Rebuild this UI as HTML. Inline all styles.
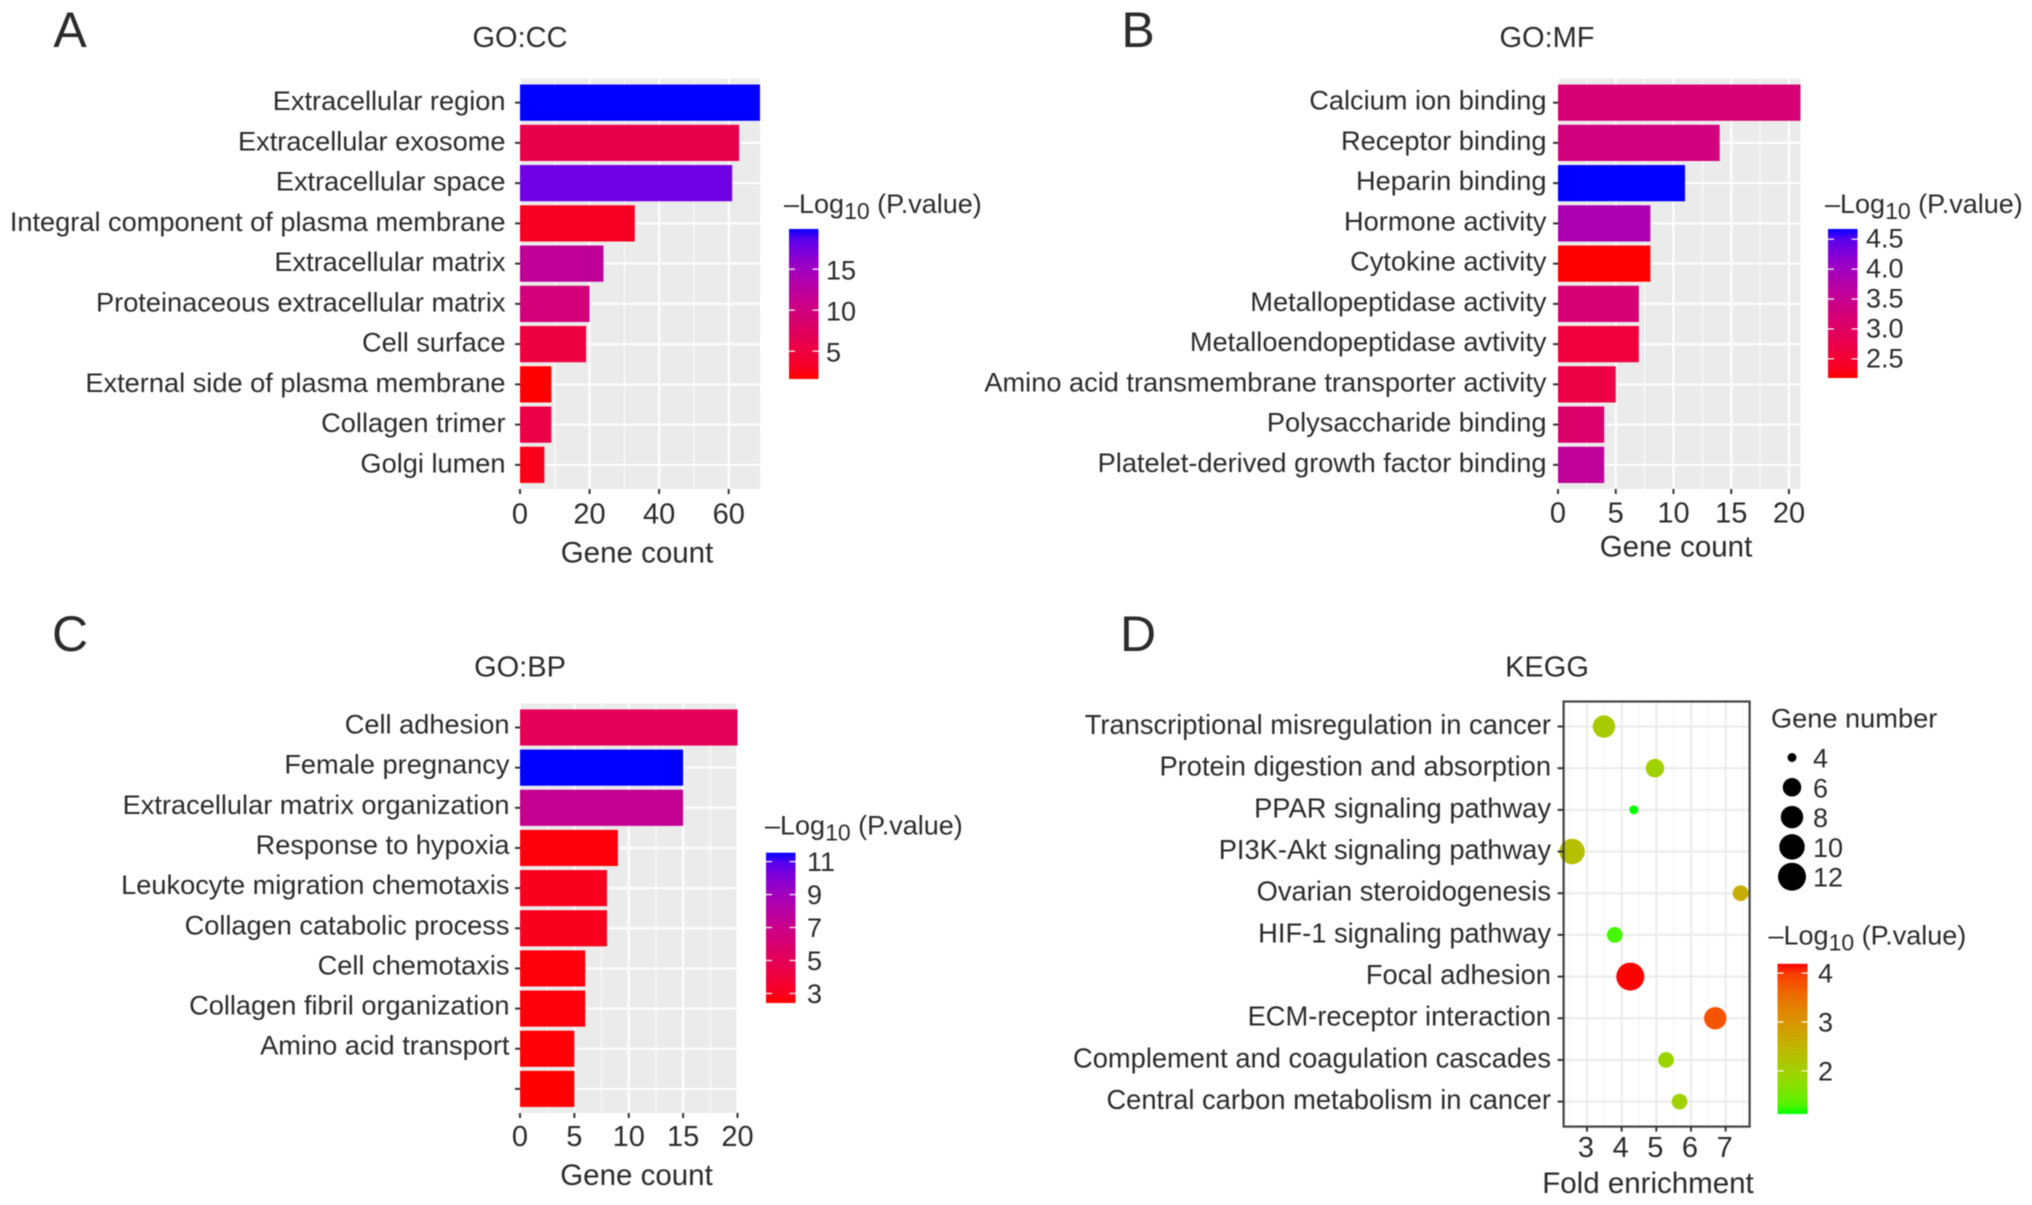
<!DOCTYPE html>
<html lang="en">
<head>
<meta charset="utf-8">
<title>GO and KEGG enrichment charts</title>
<style>
html,body{margin:0;padding:0;background:#fff;}
svg{display:block;filter:blur(0.5px);}
text{font-family:"Liberation Sans",Arial,sans-serif;fill:#2b2b2b;}
</style>
</head>
<body>
<svg id="figure" xmlns="http://www.w3.org/2000/svg" width="2032" height="1205" viewBox="0 0 2032 1205"></svg>
<script>
/* ---------- Panel A data ---------- */
const categoriesA = ["Extracellular region","Extracellular exosome","Extracellular space","Integral component of plasma membrane","Extracellular matrix","Proteinaceous extracellular matrix","Cell surface","External side of plasma membrane","Collagen trimer","Golgi lumen"];
const countsA = [69,63,61,33,24,20,19,9,9,7];
const logPA = [19.9,6,17.8,3,12,9.5,5,1.6,5.5,2.5];
const xTicksA = [0,20,40,60];
const legendTicksA = [5,10,15];

/* ---------- Panel B data ---------- */
const categoriesB = ["Calcium ion binding","Receptor binding","Heparin binding","Hormone activity","Cytokine activity","Metallopeptidase activity","Metalloendopeptidase avtivity","Amino acid transmembrane transporter activity","Polysaccharide binding","Platelet-derived growth factor binding"];
const countsB = [21,14,11,8,8,7,7,5,4,4];
const logPB = [3.2,3.3,4.67,3.85,2.18,3.2,2.6,2.7,3.1,3.6];
const xTicksB = [0,5,10,15,20];
const legendTicksB = ["2.5","3.0","3.5","4.0","4.5"];

/* ---------- Panel C data ---------- */
const categoriesC = ["Cell adhesion","Female pregnancy","Extracellular matrix organization","Response to hypoxia","Leukocyte migration chemotaxis","Collagen catabolic process","Cell chemotaxis","Collagen fibril organization","Amino acid transport",""];
const countsC = [20,15,15,9,8,8,6,6,5,5];
const logPC = [5,11.54,7.3,2.6,3,3,2.6,2.6,2.5,2.42];
const xTicksC = [0,5,10,15,20];
const legendTicksC = [3,5,7,9,11];

/* ---------- Panel D data ---------- */
const categoriesD = ["Transcriptional misregulation in cancer","Protein digestion and absorption","PPAR signaling pathway","PI3K-Akt signaling pathway","Ovarian steroidogenesis","HIF-1 signaling pathway","Focal adhesion","ECM-receptor interaction","Complement and coagulation cascades","Central carbon metabolism in cancer"];
const foldD = [3.49,4.96,4.35,2.57,7.43,3.8,4.25,6.7,5.28,5.67];
const genesD = [8,6,4,10,5,5,12,8,5,5];
const logPD = [2.1,2.0,1.12,2.3,2.6,1.25,4.19,3.8,1.9,2.0];
const xTicksD = [3,4,5,6,7];
const sizeTicksD = [4,6,8,10,12];
const legendTicksD = [2,3,4];

/* ---------- helpers ---------- */
const svg = document.getElementById('figure');
const NS = 'http://www.w3.org/2000/svg';
function make(tag, parent, props){
  const n = document.createElementNS(NS, tag);
  for (const k in props) n.setAttribute(k, props[k]);
  parent.appendChild(n);
  return n;
}
function srgbToLab(c){
  const f = c.map(v => { v/=255; return v>0.04045 ? Math.pow((v+0.055)/1.055,2.4) : v/12.92; });
  const X=(0.4124*f[0]+0.3576*f[1]+0.1805*f[2])/0.95047;
  const Y=(0.2126*f[0]+0.7152*f[1]+0.0722*f[2]);
  const Z=(0.0193*f[0]+0.1192*f[1]+0.9505*f[2])/1.08883;
  const g = t => t>0.008856 ? Math.cbrt(t) : 7.787*t+16/116;
  return [116*g(Y)-16, 500*(g(X)-g(Y)), 200*(g(Y)-g(Z))];
}
function labToCss(l){
  const fy=(l[0]+16)/116, fx=fy+l[1]/500, fz=fy-l[2]/200;
  const h = t => t*t*t>0.008856 ? t*t*t : (t-16/116)/7.787;
  const X=h(fx)*0.95047, Y=h(fy), Z=h(fz)*1.08883;
  const lin=[3.2406*X-1.5372*Y-0.4986*Z, -0.9689*X+1.8758*Y+0.0415*Z, 0.0557*X-0.2040*Y+1.0570*Z];
  const out=lin.map(v=>{ v=Math.max(0,Math.min(1,v)); v = v>0.0031308 ? 1.055*Math.pow(v,1/2.4)-0.055 : 12.92*v; return Math.round(v*255); });
  return 'rgb('+out.join(',')+')';
}
function colorScale(lowRgb, highRgb, dMin, dMax){
  const a=srgbToLab(lowRgb), b=srgbToLab(highRgb);
  return v => {
    const t=Math.max(0,Math.min(1,(v-dMin)/(dMax-dMin)));
    return labToCss([a[0]+(b[0]-a[0])*t, a[1]+(b[1]-a[1])*t, a[2]+(b[2]-a[2])*t]);
  };
}
function addLabel(parent, str, x, y, size, anchor, name){
  const t = make('text', parent, {x:x, y:y, 'font-size':size, 'text-anchor':anchor, 'dominant-baseline':'central'});
  t.textContent = str;
  
  
  return t;
}
function addLegendTitle(parent, x, y){
  const t = make('text', parent, {x:x, y:y, 'font-size':27, 'dominant-baseline':'central'});
  
  
  const a = make('tspan', t, {});
  a.textContent = '\u2013Log';
  const b = make('tspan', t, {dy:7, 'font-size':23});
  b.textContent = '10';
  const c = make('tspan', t, {dy:-7});
  c.textContent = ' (P.value)';
}
function addColorbar(parent, id, scale, dMin, dMax, ticks, geo){
  const defs = make('defs', parent, {});
  const grad = make('linearGradient', defs, {id:id, x1:0, y1:1, x2:0, y2:0});
  for (let i=0;i<=16;i++){
    make('stop', grad, {offset:(i/16), 'stop-color':scale(dMin+(dMax-dMin)*i/16)});
  }
  const bar = make('rect', parent, {x:geo.x, y:geo.top, width:geo.w, height:geo.bottom-geo.top, fill:'url(#'+id+')'});
  
  
  const yOf = v => geo.bottom - (v-dMin)/(dMax-dMin)*(geo.bottom-geo.top);
  ticks.forEach(tv => {
    const y = yOf(Number(tv));
    const t1 = make('line', parent, {x1:geo.x, x2:geo.x+6, y1:y, y2:y, stroke:'#fff', 'stroke-width':1.2});
    
    
    const t2 = make('line', parent, {x1:geo.x+geo.w-6, x2:geo.x+geo.w, y1:y, y2:y, stroke:'#fff', 'stroke-width':1.2});
    
    
    addLabel(parent, String(tv), geo.labelX, y+geo.labelDy, 27, 'start', 'colorbar-label');
  });
}

function drawBarPanel(cfg){
  const g = make('g', svg, {});
  
  
  const L=cfg.left, R=cfg.right, T=cfg.top, B=cfg.bottom;
  const domainMax = Math.max.apply(null, cfg.counts);
  const xOf = v => L + v/domainMax*(R-L);
  const unit = (B-T)/(cfg.categories.length+0.2);
  const yOf = i => T + (0.6+i)*unit;

  const panel = make('rect', g, {x:L, y:T, width:R-L, height:B-T, fill:'#ebebeb'});
  
  

  // gridlines
  for (let k=0;k<cfg.xTicks.length;k++){
    const v = cfg.xTicks[k];
    const gl = make('line', g, {x1:xOf(v), x2:xOf(v), y1:T, y2:B, stroke:'#fff', 'stroke-width':2});
    
    
    const step = cfg.xTicks[1]-cfg.xTicks[0];
    const m = v+step/2;
    if (m<domainMax){
      const gm = make('line', g, {x1:xOf(m), x2:xOf(m), y1:T, y2:B, stroke:'#fff', 'stroke-width':1});
      
      
    }
  }
  cfg.categories.forEach((c,i)=>{
    const gl = make('line', g, {x1:L, x2:R, y1:yOf(i), y2:yOf(i), stroke:'#fff', 'stroke-width':2});
    
    
  });

  // colours
  const pMin = Math.min.apply(null, cfg.logP), pMax = Math.max.apply(null, cfg.logP);
  const scale = colorScale([255,0,0],[0,0,255],pMin,pMax);

  // bars
  cfg.counts.forEach((v,i)=>{
    const bar = make('rect', g, {x:L, y:yOf(i)-0.45*unit, width:xOf(v)-L, height:0.9*unit, fill:scale(cfg.logP[i])});
    
    
  });

  // y ticks + labels
  cfg.categories.forEach((c,i)=>{
    const tk = make('line', g, {x1:L-5, x2:L, y1:yOf(i), y2:yOf(i), stroke:'#333', 'stroke-width':2});
    
    
    if (c) addLabel(g, c, cfg.labelRight, yOf(i)+cfg.labelDy, 27.2, 'end', 'y-axis-label');
  });

  // x ticks + labels
  cfg.xTicks.forEach(v=>{
    const tk = make('line', g, {x1:xOf(v), x2:xOf(v), y1:B, y2:B+5, stroke:'#333', 'stroke-width':2});
    
    
    addLabel(g, String(v), xOf(v), cfg.tickLabelY, 29, 'middle', 'x-axis-label');
  });
  addLabel(g, 'Gene count', cfg.xTitleX, cfg.xTitleY, 29.5, 'middle', 'x-axis-title');
  addLabel(g, cfg.title, cfg.titleX, cfg.titleY, 29, 'middle', 'panel-title');
  addLabel(g, cfg.letter, cfg.letterX, cfg.letterY, 50, 'middle', 'panel-letter');

  addLegendTitle(g, cfg.legend.titleX, cfg.legend.titleY);
  addColorbar(g, cfg.gradId, scale, pMin, pMax, cfg.legendTicks, cfg.legend);
}

drawBarPanel({name:'panel-go-cc', title:'GO:CC', letter:'A', gradId:'gradA',
  categories:categoriesA, counts:countsA, logP:logPA, xTicks:xTicksA, legendTicks:legendTicksA,
  left:520, right:760, top:78.5, bottom:489, labelRight:505.5, labelDy:-2, tickLabelY:514.5,
  xTitleX:637, xTitleY:553, titleX:520, titleY:38, letterX:70, letterY:30,
  legend:{titleX:784, titleY:204, x:789, w:29.5, top:229, bottom:379, labelX:826, labelDy:1.5}});

drawBarPanel({name:'panel-go-mf', title:'GO:MF', letter:'B', gradId:'gradB',
  categories:categoriesB, counts:countsB, logP:logPB, xTicks:xTicksB, legendTicks:legendTicksB,
  left:1558, right:1800.5, top:78.5, bottom:489, labelRight:1546.5, labelDy:-2.5, tickLabelY:513.5,
  xTitleX:1676, xTitleY:547, titleX:1547, titleY:38, letterX:1138, letterY:30,
  legend:{titleX:1825, titleY:204, x:1828, w:29.5, top:229, bottom:378, labelX:1866, labelDy:-0.5}});

drawBarPanel({name:'panel-go-bp', title:'GO:BP', letter:'C', gradId:'gradC',
  categories:categoriesC, counts:countsC, logP:logPC, xTicks:xTicksC, legendTicks:legendTicksC,
  left:520, right:737.5, top:703.4, bottom:1113, labelRight:509.5, labelDy:-3.5, tickLabelY:1137,
  xTitleX:636.5, xTitleY:1175.5, titleX:520, titleY:667.5, letterX:70, letterY:634,
  legend:{titleX:765, titleY:825.5, x:766, w:29.5, top:852.7, bottom:1003, labelX:807, labelDy:0.5}});

/* ---------- Panel D ---------- */
(function(){
  const g = make('g', svg, {});
  
  
  const L=1563.6, R=1749.6, T=701.5, B=1126.6;
  const vMin=2.326, vMax=7.69;
  const xOf = v => L + (v-vMin)/(vMax-vMin)*(R-L);
  const unit = (B-T)/(categoriesD.length+0.2);
  const yOf = i => T + (0.6+i)*unit;
  const rOf = n => {
    const a=Math.min.apply(null,genesD), b=Math.max.apply(null,genesD);
    return 4.5 + Math.sqrt((n-a)/(b-a))*9.5;
  };
  const pMin=Math.min.apply(null,logPD), pMax=Math.max.apply(null,logPD);
  const scale=colorScale([0,255,0],[255,0,0],pMin,pMax);

  xTicksD.forEach(v=>{
    const gl = make('line', g, {x1:xOf(v), x2:xOf(v), y1:T, y2:B, stroke:'#ebebeb', 'stroke-width':2});
    
    
    [v-0.5, v+0.5].forEach(m=>{
      if (m>vMin && m<vMax){
        const gm = make('line', g, {x1:xOf(m), x2:xOf(m), y1:T, y2:B, stroke:'#f4f4f4', 'stroke-width':1});
        
        
      }
    });
  });
  categoriesD.forEach((c,i)=>{
    const gl = make('line', g, {x1:L, x2:R, y1:yOf(i), y2:yOf(i), stroke:'#ebebeb', 'stroke-width':2});
    
    
  });
  foldD.forEach((v,i)=>{
    const p = make('circle', g, {cx:xOf(v), cy:yOf(i), r:rOf(genesD[i]), fill:scale(logPD[i])});
    
    
  });
  const box = make('rect', g, {x:L, y:T, width:R-L, height:B-T, fill:'none', stroke:'#444', 'stroke-width':2.2});
  
  

  categoriesD.forEach((c,i)=>{
    const tk = make('line', g, {x1:L-6, x2:L, y1:yOf(i), y2:yOf(i), stroke:'#333', 'stroke-width':2});
    
    
    addLabel(g, c, 1551, yOf(i)-2, 27.3, 'end', 'y-axis-label');
  });
  xTicksD.forEach(v=>{
    const tk = make('line', g, {x1:xOf(v), x2:xOf(v), y1:B, y2:B+5, stroke:'#333', 'stroke-width':2});
    
    
    addLabel(g, String(v), xOf(v)-1, 1148, 29, 'middle', 'x-axis-label');
  });
  addLabel(g, 'Fold enrichment', 1648, 1183.5, 29.5, 'middle', 'x-axis-title');
  addLabel(g, 'KEGG', 1547, 667.5, 29, 'middle', 'panel-title');
  addLabel(g, 'D', 1138, 634, 50, 'middle', 'panel-letter');

  addLabel(g, 'Gene number', 1771, 718, 27.2, 'start', 'size-legend-title');
  sizeTicksD.forEach((n,i)=>{
    const y = 757.5 + i*29.8;
    const c = make('circle', g, {cx:1792, cy:y, r:rOf(n), fill:'#000'});
    
    
    addLabel(g, String(n), 1813, y+1, 27, 'start', 'size-legend-label');
  });

  addLegendTitle(g, 1768.5, 935.5);
  addColorbar(g, 'gradD', scale, pMin, pMax, legendTicksD, {x:1777.5, w:30, top:963.8, bottom:1114, labelX:1818, labelDy:0.5});
})();
</script>
</body>
</html>
